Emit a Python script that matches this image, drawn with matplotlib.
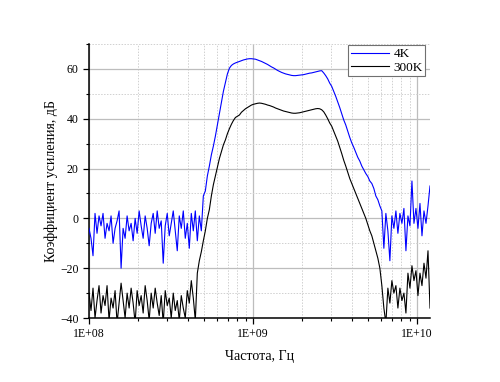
import numpy as np
import matplotlib
matplotlib.use("Agg")
import matplotlib.pyplot as plt
from matplotlib.ticker import FixedLocator, FixedFormatter, MultipleLocator, LogLocator, NullFormatter

plt.rcParams['font.family'] = ['Liberation Serif', 'DejaVu Serif']

# Frequency grid (Hz), log-spaced from 1E+08 to 1.2E+10
f_start, f_stop, n_pts = 1e8, 1.2e10, 171
freq = np.logspace(np.log10(f_start), np.log10(f_stop), n_pts)

gain_4k = [
    -4, -8, -15, 2, -6, 1, -3, 2, -8, -2, -5, 1, -10, -4, -1, 3, -20, -4, -8, 1,
    -5, -2, -9, 0, -6, 3, -3, -8, 1, -4, -11, -2, 2, -6, 3, -4, -1, -18, -3, 2,
    -7, -2, 3, -5, -13, 1, -4, 3, -8, -2, -12, 2, -5, 3, -9, 1, -5,
    9, 11, 17, 21, 25.5, 29, 33, 37.5, 42, 46.5, 51, 54.5, 58, 60.3, 61.4, 62, 62.4, 62.7, 63,
    63.3, 63.6, 63.8, 64, 64.1, 64.1, 64, 63.9, 63.6, 63.3, 63, 62.6, 62.2, 61.8, 61.3, 60.8,
    60.4, 59.9, 59.4, 59, 58.6, 58.3, 58, 57.8, 57.6, 57.4, 57.3, 57.3, 57.4, 57.5, 57.6, 57.7,
    57.9, 58.1, 58.3, 58.4, 58.6, 58.8, 59, 59.2, 59.3, 58.4, 57.3, 56, 54.3, 53, 51, 49, 46.8,
    44.5, 42, 39.5, 37.5, 35, 32.5, 30.3, 28.5, 26.5, 24.5, 23, 21, 19.5, 18, 16.8, 15, 14, 12,
    9, 7.5, 5, 3,
    -12, 2, -5, -17, 1, -4, 3, -6, 2, -2, 4, -13, 1, -3, 15, -2, 4, -4, 6, -7, 3, -2, 5, 13,
]

gain_300k = [
    -30, -37, -28, -40, -33, -27, -38, -31, -35, -27, -41, -32, -36, -29, -42, -34, -26, -33, -40, -30,
    -36, -28, -34, -42, -29, -35, -31, -38, -27, -33, -41, -30, -36, -28, -34, -39, -31, -42, -29, -35,
    -32, -40, -30, -37, -33, -41, -31, -36, -40, -29, -34, -25, -32, -41,
    -22, -17, -13.4, -9, -5, 0, 3.5, 9, 13.5, 17, 20.5, 24, 26.8, 29.5, 31.5, 34, 36, 37.8, 39.3,
    40.5, 41, 41.5, 42.6, 43.3, 44, 44.5, 45, 45.5, 45.8, 46, 46.2, 46.3, 46.2, 46, 45.8, 45.5,
    45.3, 45, 44.7, 44.3, 44, 43.7, 43.4, 43.1, 42.9, 42.7, 42.5, 42.3, 42.2, 42.2, 42.3, 42.4,
    42.6, 42.8, 43, 43.2, 43.4, 43.6, 43.8, 44, 44.1, 44, 43.6, 42.8, 41.5, 40, 38.3, 37, 35, 33,
    31, 28.5, 26, 23.3, 21, 18.5, 16, 14, 12, 10, 8, 6, 4, 2, 0, -2.5, -5, -7, -10, -13, -16, -20,
    -27, -36, -42,
    -28, -34, -25, -30, -27, -36, -28, -33, -30, -38, -22, -28, -19, -25, -21, -31, -22, -27, -18,
    -24, -13, -36,
]

x_ticks = [1e8, 1e9, 1e10]
x_tick_labels = ["1E+08", "1E+09", "1E+10"]
series_labels = ["4K", "300K"]

fig = plt.figure(figsize=(5.0, 3.82), dpi=100)
ax = fig.add_axes([0.178, 0.1675, 0.682, 0.7173])

ax.plot(freq, gain_4k, color='#0000ff', lw=0.8, label=series_labels[0], zorder=3)
ax.plot(freq, gain_300k, color='black', lw=0.8, label=series_labels[1], zorder=3)

ax.set_xscale('log')
ax.set_xlim(f_start, f_stop)
ax.set_ylim(-40, 70)

ax.xaxis.set_major_locator(FixedLocator(x_ticks))
ax.xaxis.set_major_formatter(FixedFormatter(x_tick_labels))
ax.xaxis.set_minor_locator(LogLocator(base=10, subs=np.arange(2, 10)))
ax.xaxis.set_minor_formatter(NullFormatter())
ax.set_yticks([-40, -20, 0, 20, 40, 60])
ax.yaxis.set_minor_locator(MultipleLocator(10))

ax.grid(which='major', color='#bdbdbd', lw=0.9, ls='-', zorder=0)
ax.grid(which='minor', color='#d0d0d0', lw=0.7, ls=(0, (1.5, 1.5)), zorder=0)
ax.set_axisbelow(True)

for s in ['top', 'right']:
    ax.spines[s].set_visible(False)
for s in ['left', 'bottom']:
    ax.spines[s].set_linewidth(1.1)

ax.tick_params(which='major', direction='out', length=4, width=0.9, labelsize=8.5, colors='black')
ax.tick_params(which='minor', direction='out', length=2.5, width=0.8)

ax.set_xlabel("Частота, Гц", fontsize=10, labelpad=7)
ax.set_ylabel("Коэффициент усиления, дБ", fontsize=10, labelpad=1.5)

leg = ax.legend(loc='upper right', bbox_to_anchor=(0.99, 1.0), fontsize=9.5, frameon=True,
                fancybox=False, framealpha=1, edgecolor='#707070', borderpad=0.2,
                handlelength=2.9, handletextpad=0.3, labelspacing=0.1, borderaxespad=0.1)
leg.get_frame().set_linewidth(0.8)

fig.savefig("out.png", dpi=100)
